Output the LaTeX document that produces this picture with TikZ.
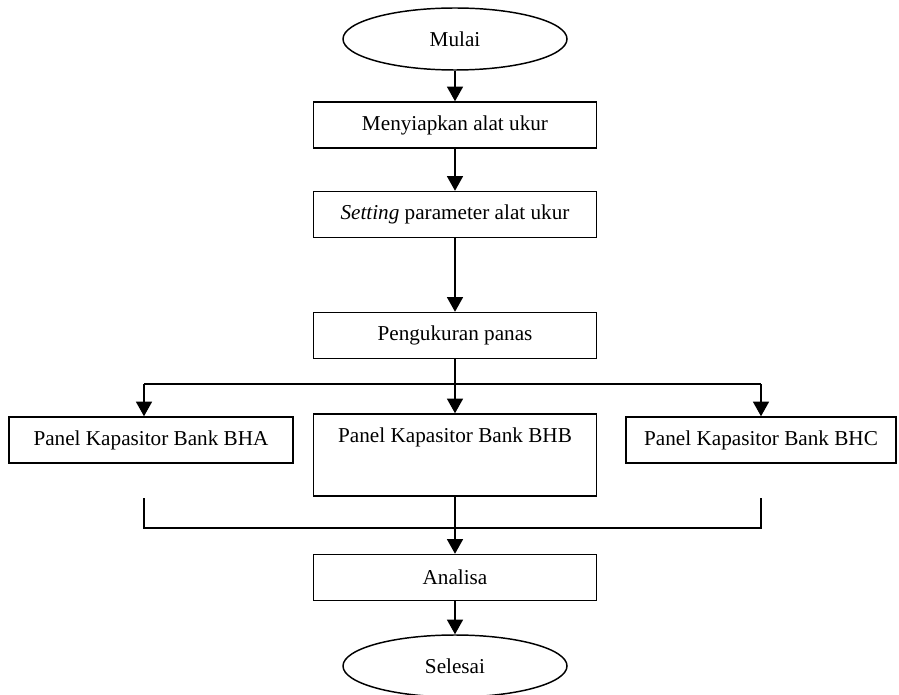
\documentclass[tikz,border=0pt]{standalone}
\usepackage{fontspec}
\setmainfont{Liberation Serif}
\usetikzlibrary{shapes.geometric,arrows.meta}
\begin{document}
\begin{tikzpicture}[x=0.75pt,y=-0.75pt,
  txt/.style={font=\fontsize{15.9}{19}\selectfont},
  box/.style={txt, draw, line width=1.1pt, rectangle, minimum width=212.25pt, minimum height=34.5pt, inner sep=0pt},
  term/.style={txt, draw, line width=1.1pt, ellipse, minimum width=168pt, minimum height=46.5pt, inner sep=0pt},
  conn/.style={line width=1.2pt},
  arr/.style={conn, -{Triangle[length=11pt,width=12pt]}}]
\useasboundingbox[fill=white] (0,0) rectangle (899,695);

\node[term] (mulai) at (455,39) {Mulai};
\node[box] (s1) at (455,125) {Menyiapkan alat ukur};
\node[box] (s2) at (455,214.5) {\textit{Setting} parameter alat ukur};
\node[box] (s3) at (455,335.5) {Pengukuran panas};
\node[box, minimum width=213pt] (bha) at (151,440) {Panel Kapasitor Bank BHA};
\node[box, minimum height=61.5pt] (bhb) at (455,455) {};
\node[txt, anchor=center] (bhbt) at ([yshift=-18pt]bhb.north) {Panel Kapasitor Bank BHB};
\node[box, minimum width=202.5pt] (bhc) at (761,440) {Panel Kapasitor Bank BHC};
\node[box] (analisa) at (455,577.5) {Analisa};
\node[term] (selesai) at (455,666) {Selesai};

\coordinate (split) at (455,384);
\coordinate (jl) at (144,384);
\coordinate (jr) at (761,384);
\coordinate (al) at (144,498);
\coordinate (ar) at (761,498);
\coordinate (ml) at (144,528);
\coordinate (mr) at (761,528);

\draw[arr] (mulai) -- (s1);
\draw[arr] (s1) -- (s2);
\draw[arr] (s2) -- (s3);
\draw[conn] (s3) -- (split);
\draw[conn] (jl) -- (jr);
\draw[arr] (jl) -- (jl |- bha.north);
\draw[arr] (split) -- (bhb.north);
\draw[arr] (jr) -- (jr |- bhc.north);
\draw[conn] (al) -- (ml) -- (mr) -- (ar);
\draw[arr] (bhb) -- (analisa);
\draw[arr] (analisa) -- (selesai);
\end{tikzpicture}
\end{document}
